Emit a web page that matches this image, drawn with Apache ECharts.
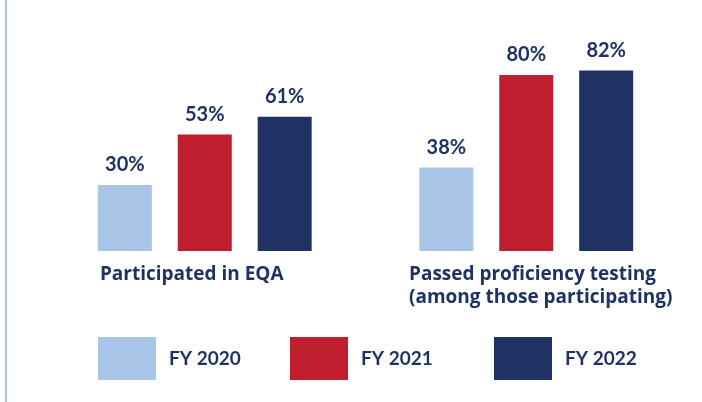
<!DOCTYPE html>
<html lang="en">
<head>
    <meta charset="UTF-8">
    <title>EQA participation</title>
    <script src="https://cdn.jsdelivr.net/npm/echarts@6/dist/echarts.min.js"></script>
    <style>
        html, body { margin: 0; padding: 0; background: #fff; }
    </style>
</head>
<body>
    <div id="main" style="width: 702px; height: 402px;"></div>

    <script>
        var categories = ['Participated in EQA', 'Passed proficiency testing\n(among those participating)'];
        var seriesNames = ['FY 2020', 'FY 2021', 'FY 2022'];
        var fy2020 = [30, 38];
        var fy2021 = [53, 80];
        var fy2022 = [61, 82];

        var navy = '#203264';
        var colors = ['#a9c5e7', '#be1e2e', navy];
        var font = 'Lato, "Open Sans", sans-serif';
        var catFont = '"Open Sans", Lato, sans-serif';

        var mychart = echarts.init(document.getElementById('main'));

        function barSeries(name, values, color) {
            return {
                name: name,
                type: 'bar',
                data: values,
                barWidth: 54,
                barGap: '48%',
                itemStyle: { color: color },
                label: {
                    show: true,
                    position: 'top',
                    distance: 10,
                    formatter: '{c}%',
                    color: navy,
                    fontFamily: font,
                    fontWeight: 'bold',
                    fontSize: 20
                }
            };
        }

        // one legend per item so the boxes sit where the original has them
        var legendLeft = [98, 290, 494];
        var legends = seriesNames.map(function (n, i) {
            return {
                data: [n],
                left: legendLeft[i],
                top: 337,
                padding: 0,
                icon: 'rect',
                itemWidth: 58,
                itemHeight: 43,
                selectedMode: false,
                textStyle: {
                    color: navy,
                    fontFamily: font,
                    fontWeight: 'bold',
                    fontSize: 19,
                    padding: [0, 0, 0, 8]
                }
            };
        });

        // per-category padding shifts the left-aligned block like in the original
        var labelPad = [[0, 26, 0, 0], [0, 0, 0, 29]];

        var option = {
            animation: false,
            grid: { left: 44, right: 15, top: 31, bottom: 151 },
            legend: legends,
            graphic: [{
                type: 'rect',
                left: 5,
                top: 0,
                shape: { width: 2, height: 402 },
                style: { fill: '#aac5e8' }
            }],
            xAxis: {
                type: 'category',
                data: categories.map(function (c, i) {
                    return { value: c, textStyle: { padding: labelPad[i] } };
                }),
                axisLine: { show: false },
                axisTick: { show: false },
                axisLabel: {
                    interval: 0,
                    margin: 12,
                    formatter: function (v) {
                        return v.split('\n').map(function (s) { return '{l|' + s + '}'; }).join('\n');
                    },
                    rich: {
                        l: {
                            align: 'left',
                            color: navy,
                            fontFamily: catFont,
                            fontWeight: 'bold',
                            fontSize: 19,
                            lineHeight: 23
                        }
                    }
                }
            },
            yAxis: {
                type: 'value',
                min: 0,
                max: 100,
                show: false
            },
            series: [
                barSeries(seriesNames[0], fy2020, colors[0]),
                barSeries(seriesNames[1], fy2021, colors[1]),
                barSeries(seriesNames[2], fy2022, colors[2])
            ]
        };
        mychart.setOption(option);
    </script>
</body>
</html>
